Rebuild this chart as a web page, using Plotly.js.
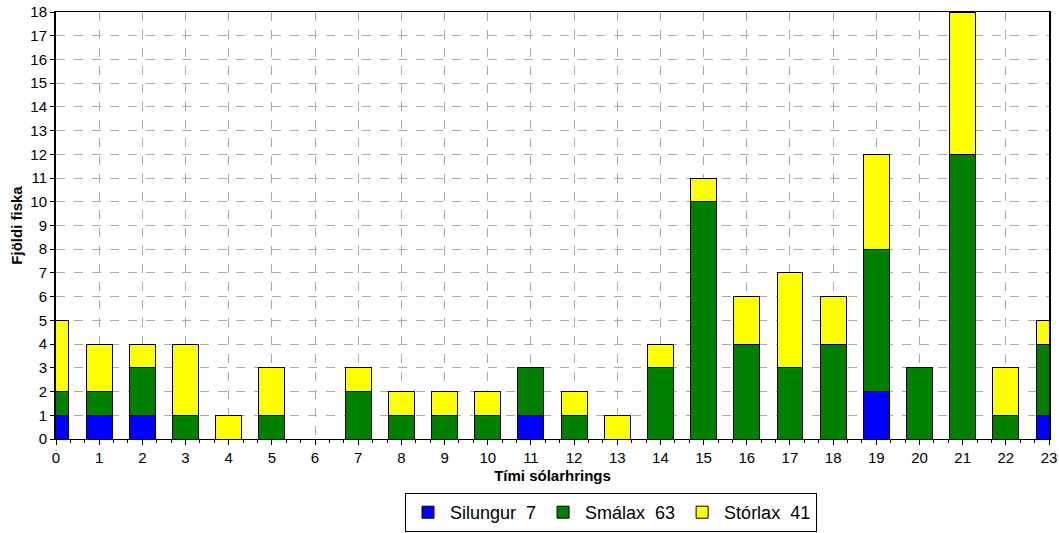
<!DOCTYPE html>
<html>
<head>
<meta charset="utf-8">
<script src="https://cdn.plot.ly/plotly-3.0.1.min.js"></script>
<style>html,body{margin:0;padding:0;background:#fff;}#chart{width:1059px;height:533px;}</style>
</head>
<body>
<div id="chart"></div>
<script>
const hours = [0,1,2,3,4,5,6,7,8,9,10,11,12,13,14,15,16,17,18,19,20,21,22,23];
const silungur = [1,1,1,0,0,0,0,0,0,0,0,1,0,0,0,0,0,0,0,2,0,0,0,1];
const smalax   = [1,1,2,1,0,1,0,2,1,1,1,2,1,0,3,10,4,3,4,6,3,12,1,3];
const storlax  = [3,2,1,3,1,2,0,1,1,1,1,0,1,1,1,1,2,4,2,4,0,6,2,1];
const seriesNames = ['Silungur', 'Smálax', 'Stórlax'];
const seriesColors = ['#0000FF', '#008000', '#FFFF00'];
const yTicks = [0,1,2,3,4,5,6,7,8,9,10,11,12,13,14,15,16,17,18];

const sum = a => a.reduce((s, v) => s + v, 0);
const data = [silungur, smalax, storlax].map((vals, i) => ({
  type: 'bar',
  x: hours,
  y: vals,
  name: seriesNames[i] + '\u00a0\u00a0' + sum(vals),
  marker: {color: seriesColors[i], line: {color: '#000', width: 1}},
  hoverinfo: 'x+y+name'
}));

const layout = {
  width: 1059, height: 533,
  margin: {l: 56, r: 10, t: 12, b: 94, autoexpand: false},
  barmode: 'stack',
  bargap: 0.4,
  paper_bgcolor: '#fff', plot_bgcolor: '#fff',
  font: {family: 'Liberation Sans, Arial, sans-serif', size: 14, color: '#000'},
  xaxis: {
    range: [0, 23], tickvals: hours, ticktext: hours.map(String),
    automargin: false,
    showgrid: true, gridcolor: '#aaa', griddash: 'dash', gridwidth: 1,
    showline: true, linecolor: '#000', linewidth: 1, mirror: true,
    ticks: 'outside', ticklen: 5, tickcolor: '#000',
    minor: {dtick: 1/3, tick0: 0, ticks: 'outside', ticklen: 3, tickcolor: '#000', showgrid: false},
    zeroline: false,
    tickfont: {size: 15},
    title: {text: 'Tími sólarhrings', font: {size: 15, weight: 'bold'}, standoff: 5}
  },
  yaxis: {
    range: [0, 18], tickvals: yTicks, ticktext: yTicks.map(String),
    automargin: false,
    showgrid: true, gridcolor: '#aaa', griddash: 'dash', gridwidth: 1,
    showline: true, linecolor: '#000', linewidth: 2, mirror: true,
    ticks: 'outside', ticklen: 4, tickcolor: '#000',
    zeroline: false,
    tickfont: {size: 15},
    title: {text: 'Fjöldi fiska', font: {size: 15, weight: 'bold'}, standoff: 4}
  },
  showlegend: true,
  legend: {
    orientation: 'h', xref: 'container', yref: 'container',
    x: 405 / 1059, xanchor: 'left', y: 1 / 533, yanchor: 'bottom',
    bordercolor: '#000', borderwidth: 1, bgcolor: '#fff',
    font: {size: 18}, itemwidth: 34, tracegroupgap: 0,
    traceorder: 'normal'
  }
};

Plotly.newPlot('chart', data, layout, {displayModeBar: false, staticPlot: true});
</script>
</body>
</html>
